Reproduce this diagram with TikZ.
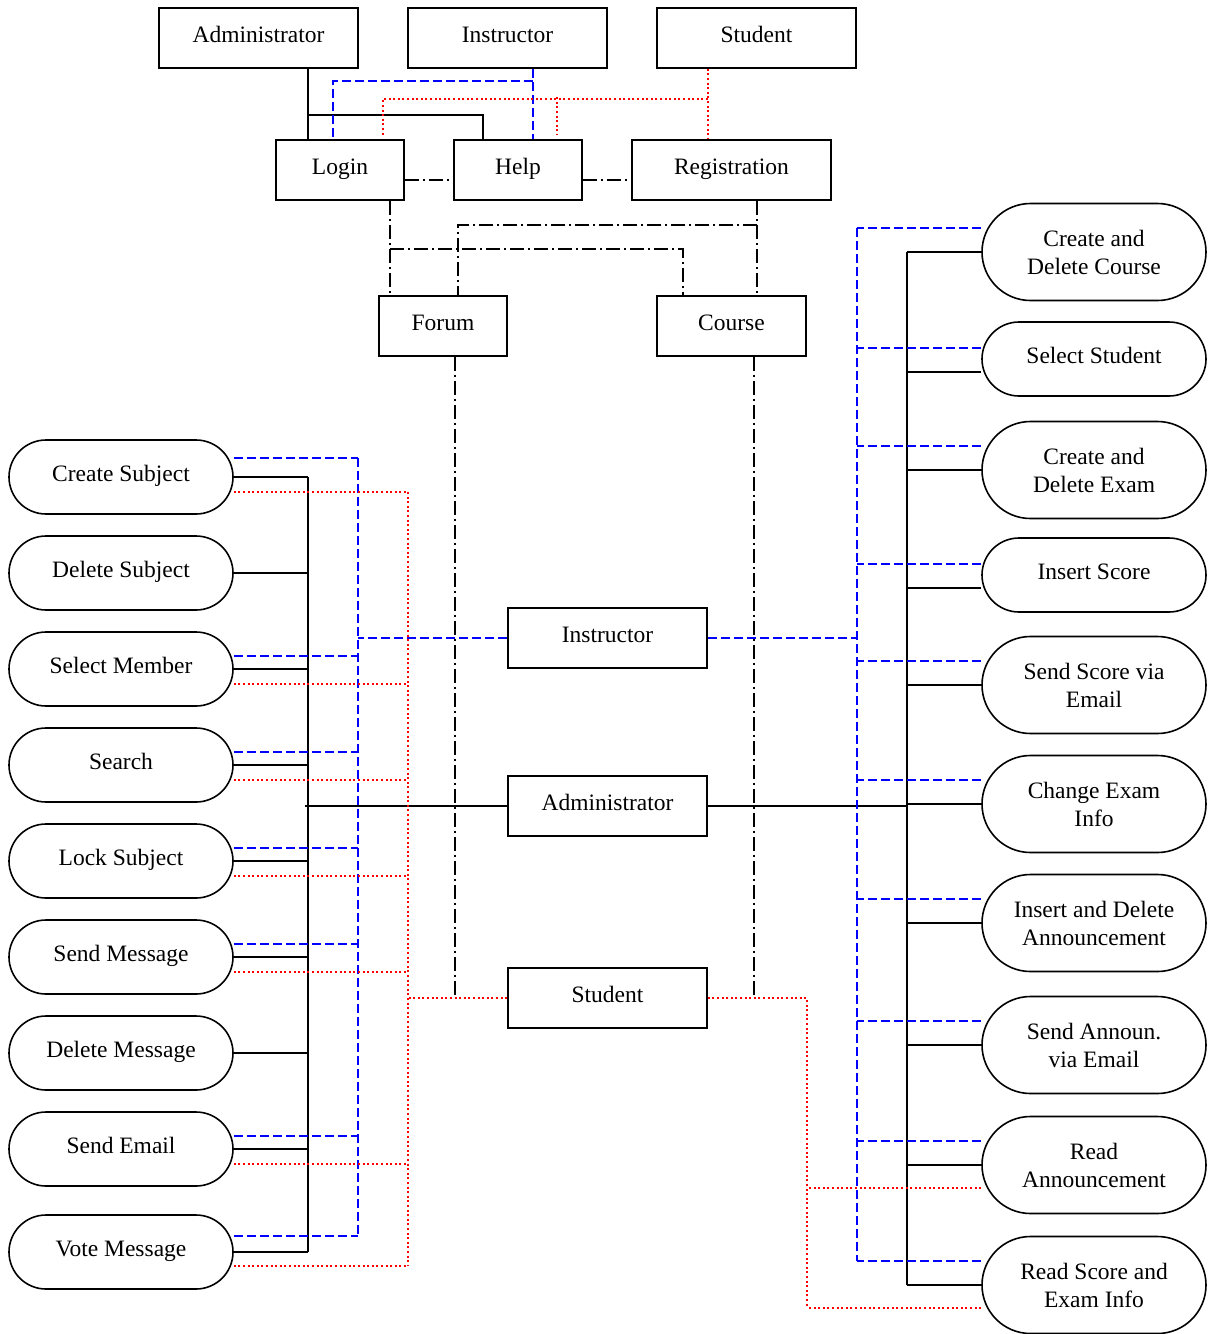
\documentclass[tikz,border=0pt]{standalone}
\usepackage{fontspec}
\setmainfont{Liberation Serif}
\usetikzlibrary{backgrounds,calc}
\begin{document}
\begin{tikzpicture}[x=1pt,y=-1pt,
  every node/.style={font=\fontsize{23.5}{28}\selectfont},
  box/.style={draw, line width=1.6pt, fill=white, minimum height=60pt, inner sep=0pt, text height=16pt, text depth=8pt},
  opone/.style={draw, line width=1.6pt, fill=white, minimum width=224pt, minimum height=74pt, rounded corners=37pt, inner sep=0pt, text height=16pt, text depth=8pt},
  optwo/.style={draw, line width=1.6pt, fill=white, minimum width=224pt, minimum height=97pt, rounded corners=48.5pt, inner sep=0pt, align=center},
  solidln/.style={draw=black, line width=1.5pt},
  bluedash/.style={draw=blue, line width=1.7pt, dash pattern=on 9pt off 4pt},
  reddot/.style={draw=red, line width=2pt, dash pattern=on 2pt off 2.6pt},
  dashdot/.style={draw=black, line width=1.5pt, dash pattern=on 14pt off 4pt on 2pt off 4pt},
]
\useasboundingbox (0,0) rectangle (1213,1334);

% top boxes
\node[box, minimum width=199pt] (tAdm) at (258.5,38) {Administrator};
\node[box, minimum width=199pt] (tIns) at (507.5,38) {Instructor};
\node[box, minimum width=199pt] (tStu) at (756.5,38) {Student};
\node[box, minimum width=128pt] (login) at (340,170) {Login};
\node[box, minimum width=128pt] (help) at (518,170) {Help};
\node[box, minimum width=199pt] (reg) at (731.5,170) {Registration};
\node[box, minimum width=128pt] (forum) at (443,326) {Forum};
\node[box, minimum width=149pt] (course) at (731.5,326) {Course};
% center boxes
\node[box, minimum width=199pt] (cIns) at (607.5,638) {Instructor};
\node[box, minimum width=199pt] (cAdm) at (607.5,806) {Administrator};
\node[box, minimum width=199pt] (cStu) at (607.5,998) {Student};

% left operations
\node[opone] (cs) at (121,477) {Create Subject};
\node[opone] (ds) at (121,573) {Delete Subject};
\node[opone] (sm) at (121,669) {Select Member};
\node[opone] (sr) at (121,765) {Search};
\node[opone] (ls) at (121,861) {Lock Subject};
\node[opone] (sg) at (121,957) {Send Message};
\node[opone] (dm) at (121,1053) {Delete Message};
\node[opone] (se) at (121,1149) {Send Email};
\node[opone] (vm) at (121,1252) {Vote Message};

% right operations
\node[optwo] (cdc) at (1094,252) {Create and\\Delete Course};
\node[opone] (ss) at (1094,359) {Select Student};
\node[optwo] (cde) at (1094,470) {Create and\\Delete Exam};
\node[opone] (ins) at (1094,575) {Insert Score};
\node[optwo] (ssv) at (1094,685) {Send Score via\\Email};
\node[optwo] (cei) at (1094,804) {Change Exam\\Info};
\node[optwo] (ida) at (1094,923) {Insert and Delete\\Announcement};
\node[optwo] (sav) at (1094,1045) {Send Announ.\\via Email};
\node[optwo] (ra) at (1094,1165) {Read\\Announcement};
\node[optwo] (rse) at (1094,1285) {Read Score and\\Exam Info};

% bus lines x positions
\coordinate (lk) at (308,0);
\coordinate (lb) at (358,0);
\coordinate (lr) at (408,0);
\coordinate (rk) at (907,0);
\coordinate (rb) at (857,0);
\coordinate (rr) at (807,0);

\begin{scope}[on background layer]
\fill[white] (0,0) rectangle (1213,1334);
% ---- top area
\draw[solidln] ($(tAdm.south)+(49.5,0)$) -- ($(login.north)+(-32,0)$);
\draw[solidln] ($(tAdm.south)+(49.5,46)$) -| ($(help.north)+(-35,0)$);
\draw[bluedash] ($(tIns.south)+(25.5,0)$) -- ($(help.north)+(15,0)$);
\draw[bluedash] ($(tIns.south)+(25.5,12)$) -| ($(login.north)+(-7,0)$);
\draw[reddot] ($(tStu.south)+(-48.5,0)$) -- ($(reg.north)+(-23.5,0)$);
\draw[reddot] ($(tStu.south)+(-48.5,30)$) -| ($(login.north)+(43,-4)$);
\draw[reddot] ($(help.north)+(39,-42)$) -- ($(help.north)+(39,-5)$);
\draw[dashdot] ($(login.east)+(0,10)$) -- ($(help.west)+(0,10)$);
\draw[dashdot] ($(help.east)+(0,10)$) -- ($(reg.west)+(0,10)$);
\draw[dashdot] ($(login.south)+(50,0)$) -- ($(forum.north)+(-53,0)$);
\draw[dashdot] ($(login.south)+(50,48)$) -| ($(course.north)+(-48.5,0)$);
\draw[dashdot] ($(reg.south)+(25.5,0)$) -- ($(course.north)+(25.5,0)$);
\draw[dashdot] ($(reg.south)+(25.5,24)$) -| ($(forum.north)+(15,0)$);
\draw[dashdot] ($(forum.south)+(12,0)$) -- ($(cStu.west -| forum.south)+(12,0)$);
\draw[dashdot] ($(course.south)+(22.5,0)$) -- ($(cStu.east -| course.south)+(22.5,0)$);

% ---- left side
\foreach \n in {cs,ds,sm,sr,ls,sg,dm,se,vm}
  \draw[solidln] (\n.east) -- (\n.east -| lk);
\draw[solidln] (cs.east -| lk) -- (vm.east -| lk);
\draw[solidln] (cAdm.west) -- ($(cAdm.west -| lk)+(-3,0)$);
\foreach \n/\d in {cs/19,sm/13,sr/13,ls/13,sg/13,se/13,vm/16}
  \draw[bluedash] ($(\n.east)+(0,-\d)$) -- ($(\n.east -| lb)+(0,-\d)$);
\draw[bluedash] ($(cs.east -| lb)+(0,-19)$) -- ($(vm.east -| lb)+(0,-16)$);
\draw[bluedash] (cIns.west) -- (cIns.west -| lb);
\foreach \n/\d in {cs/15,sm/15,sr/15,ls/15,sg/15,se/15,vm/14}
  \draw[reddot] ($(\n.east)+(0,\d)$) -- ($(\n.east -| lr)+(0,\d)$);
\draw[reddot] ($(cs.east -| lr)+(0,15)$) -- ($(vm.east -| lr)+(0,14)$);
\draw[reddot] (cStu.west) -- (cStu.west -| lr);

% ---- right side
\foreach \n/\d in {cdc/0,ss/13,cde/0,ins/13,ssv/0,cei/0,ida/0,sav/0,ra/0,rse/0}
  \draw[solidln] ($(\n.west)+(0,\d)$) -- ($(\n.west -| rk)+(0,\d)$);
\draw[solidln] (cdc.west -| rk) -- (rse.west -| rk);
\draw[solidln] (cAdm.east) -- (cAdm.east -| rk);
\foreach \n/\d in {cdc/24,ss/11,cde/24,ins/11,ssv/24,cei/24,ida/24,sav/24,ra/24,rse/24}
  \draw[bluedash] ($(\n.west)+(0,-\d)$) -- ($(\n.west -| rb)+(0,-\d)$);
\draw[bluedash] ($(cdc.west -| rb)+(0,-24)$) -- ($(rse.west -| rb)+(0,-24)$);
\draw[bluedash] (cIns.east) -- (cIns.east -| rb);
\draw[reddot] (cStu.east) -| ($(rse.west -| rr)+(0,23)$);
\foreach \n in {ra,rse}
  \draw[reddot] ($(\n.west)+(0,23)$) -- ($(\n.west -| rr)+(0,23)$);
\end{scope}
\end{tikzpicture}
\end{document}
